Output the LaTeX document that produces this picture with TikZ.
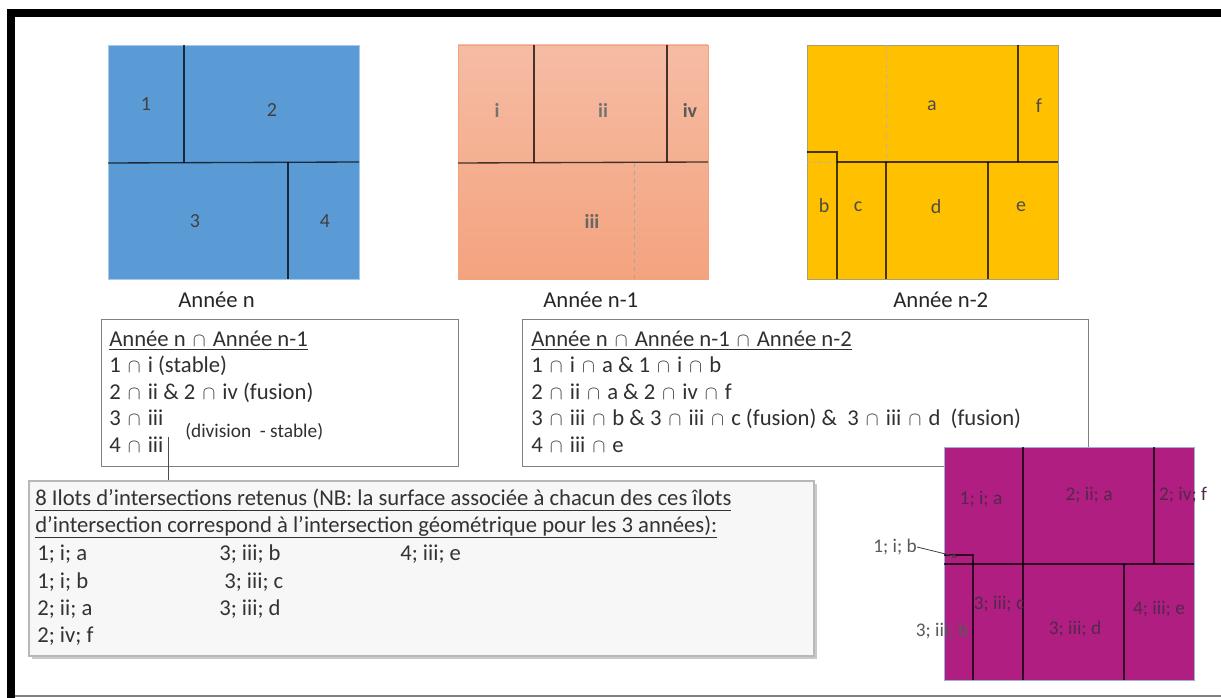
\documentclass[tikz,border=0pt]{standalone}
\usepackage{fontspec}
\setmainfont{Carlito}
\usetikzlibrary{shadows,arrows.meta}
\definecolor{blueF}{HTML}{5B9BD5}
\definecolor{blueB}{HTML}{A8C8E8}
\definecolor{salT}{HTML}{F5BCA4}
\definecolor{salB}{HTML}{F4A37E}
\definecolor{yelF}{HTML}{FFC000}
\definecolor{yelB}{HTML}{A8A070}
\definecolor{purF}{HTML}{AF1E80}
\definecolor{purB}{HTML}{9DB0D8}
\definecolor{txt}{HTML}{303030}
\definecolor{plabc}{HTML}{52294C}
\newcommand\ca{\kern1.5pt{\fontsize{15}{15}\selectfont$\cap$}\kern1.5pt}
\tikzset{
  part/.style={draw=black, draw opacity=0.72, line width=1pt},
  lab/.style={inner sep=0pt, font=\fontsize{15}{17}\selectfont, text=black!70},
  txtline/.style={inner sep=0pt, anchor=base west, text=txt},
  plab/.style={inner sep=0pt, font=\fontsize{14.5}{16}\selectfont, text=plabc},
  olab/.style={inner sep=0pt, font=\fontsize{14.5}{16}\selectfont, text=black!65},
  boxst/.style={draw=black!50, line width=1.1pt, fill=white, inner sep=0pt, anchor=north west},
}
\begin{document}
\begin{tikzpicture}[x=0.75pt,y=-0.75pt, font=\fontsize{17}{19}\selectfont]
\useasboundingbox (0,0) rectangle (1221,698);
\fill[white] (0,0) rectangle (1221,698);
% frame
\fill[black] (7,9) rectangle (1221,17);
\fill[black] (7,9) rectangle (15,698);
\draw[black!50, line width=1pt] (15,696) -- (1221,696);

% ---- Annee n (blue)
\path[fill=blueF, draw=blueB, line width=0.6pt] (108,45) rectangle (359,279);
\draw[part] (184,45) -- (184,163);
\draw[part] (108,163) -- (359,162);
\draw[part] (288,162) -- (288,279);
\node[lab, text=black!75] (n1) at (146,104) {1};
\node[lab, text=black!75] (n2) at (272,110) {2};
\node[lab, text=black!75] (n3) at (195,221) {3};
\node[lab, text=black!75] (n4) at (325,221) {4};

% ---- Annee n-1 (salmon)
\shade[top color=salT, bottom color=salB] (458,45) rectangle (708,279);
\draw[salB, line width=0.6pt] (458,45) rectangle (708,279);
\draw[part] (534,45) -- (534,163);
\draw[part] (667,45) -- (667,162);
\draw[part] (458,163) -- (708,162);
\draw[black!35, dashed, line width=0.5pt] (634,163) -- (634,279);
\node[lab, text=black!55] (si) at (497,110) {\textbf{i}};
\node[lab, text=black!55] (sii) at (603,110) {\textbf{ii}};
\node[lab, text=black!65] (siv) at (690,110) {\textbf{iv}};
\node[lab, text=black!60] (siii) at (592,221) {\textbf{iii}};

% ---- Annee n-2 (yellow)
\path[fill=yelF, draw=yelB, line width=0.6pt] (807,45) rectangle (1058,279);
\draw[black!30, dash dot, line width=0.5pt] (886,45) -- (886,162);
\draw[black!30, dash dot, line width=0.5pt] (807,162) -- (837,162);
\draw[part] (807,152) -- (837,152) -- (837,279);
\draw[part] (837,162) -- (1058,162);
\draw[part] (886,162) -- (886,279);
\draw[part] (988,162) -- (988,279);
\draw[part] (1018,45) -- (1018,162);
\node[lab] (ya) at (932,106) {a};
\node[lab] (yf) at (1039,106) {f};
\node[lab] (yb) at (824,206) {b};
\node[lab] (yc) at (858,207) {c};
\node[lab] (yd) at (936,207) {d};
\node[lab] (ye) at (1021,207) {e};

% captions
\node[txtline, text=black!85] (capn) at (178,308) {Année n};
\node[txtline, text=black!85] (capn1) at (543,308) {Année n-1};
\node[txtline, text=black!85] (capn2) at (893,308) {Année n-2};

% ---- box 1
\node[boxst, minimum width=267.75pt, minimum height=110.25pt] (box1) at (101,319) {};
\node[txtline] (b1l1) at (109,347) {\underline{Année n \ca\ Année n-1}};
\node[txtline] (b1l2) at (109,373) {1 \ca\ i (stable)};
\node[txtline] (b1l3) at (109,400) {2 \ca\ ii \& 2 \ca\ iv (fusion)};
\node[txtline] (b1l4) at (109,426) {3 \ca\ iii};
\node[txtline] (b1l5) at (109,453) {4 \ca\ iii};
\node[txtline, font=\fontsize{14.5}{16}\selectfont] (b1div) at (185,438) {(division\ \ - stable)};

% ---- box 2
\node[boxst, minimum width=424.5pt, minimum height=110.25pt] (box2) at (522,319) {};
\node[txtline] (b2l1) at (531,347) {\underline{Année n \ca\ Année n-1 \ca\ Année n-2}};
\node[txtline] (b2l2) at (531,373) {1 \ca\ i \ca\ a \& 1 \ca\ i \ca\ b};
\node[txtline] (b2l3) at (531,400) {2 \ca\ ii \ca\ a \& 2 \ca\ iv \ca\ f};
\node[txtline] (b2l4) at (531,426) {3 \ca\ iii \ca\ b \& 3 \ca\ iii \ca\ c (fusion) \&\ \ 3 \ca\ iii \ca\ d\ \ (fusion)};
\node[txtline] (b2l5) at (531,453) {4 \ca\ iii \ca\ e};

% ---- bottom box
\node[boxst, draw=black!28, line width=1.6pt, fill=black!3, minimum width=588.75pt, minimum height=131.25pt,
      drop shadow={shadow xshift=2.5pt, shadow yshift=-2.5pt, opacity=0.35, fill=black!60}] (box3) at (28,480) {};
\node[txtline, text=black!80] (t1) at (35,505) {\underline{8 Ilots d’intersections retenus (NB: la surface associée à chacun des ces îlots}};
\node[txtline, text=black!80] (t2) at (35,532) {\underline{d’intersection correspond à l’intersection géométrique pour les 3 années):}};
\node[txtline, text=black!80] (r11) at (37,560) {1; i; a};
\node[txtline, text=black!80] (r21) at (37,588) {1; i; b};
\node[txtline, text=black!80] (r31) at (37,615) {2; ii; a};
\node[txtline, text=black!80] (r41) at (37,642) {2; iv; f};
\node[txtline, text=black!80] (r12) at (219,560) {3; iii; b};
\node[txtline, text=black!80] (r22) at (224,588) {3; iii; c};
\node[txtline, text=black!80] (r32) at (219,615) {3; iii; d};
\node[txtline, text=black!80] (r13) at (400,560) {4; iii; e};

% connector from box 1 to bottom box
\coordinate (c1) at (168,437);
\draw[black!70, line width=0.7pt] (c1) -- (c1 |- box3.north);

% ---- result (purple)
\path[fill=purF, draw=purB, line width=0.6pt] (944,447) rectangle (1194,680);
\draw[part] (1023,447) -- (1023,680);
\draw[part] (1154,447) -- (1154,564);
\draw[part] (944,564) -- (1194,564);
\draw[part] (944,555) -- (973,555) -- (973,680);
\draw[part] (1124,564) -- (1124,680);
\node[plab] (p1) at (981,499) {1; i; a};
\node[plab] (p2) at (1089,495) {2; ii; a};
\node[plab] (p3) at (1183,495) {2; iv; f};
\node[plab] (p4) at (999,604) {3; iii; c};
\node[plab] (p5) at (1075,629) {3; iii; d};
\node[plab] (p6) at (1159,609) {4; iii; e};
\node[olab] (p7) at (942,631) {3; iii; b};
\node[olab] (p8) at (895,547) {1; i; b};
\coordinate (p8t) at (958,557);
\draw[black!75, line width=0.6pt, -{Latex[length=4pt,width=3.5pt]}] (p8.east) -- (p8t);
\end{tikzpicture}
\end{document}
